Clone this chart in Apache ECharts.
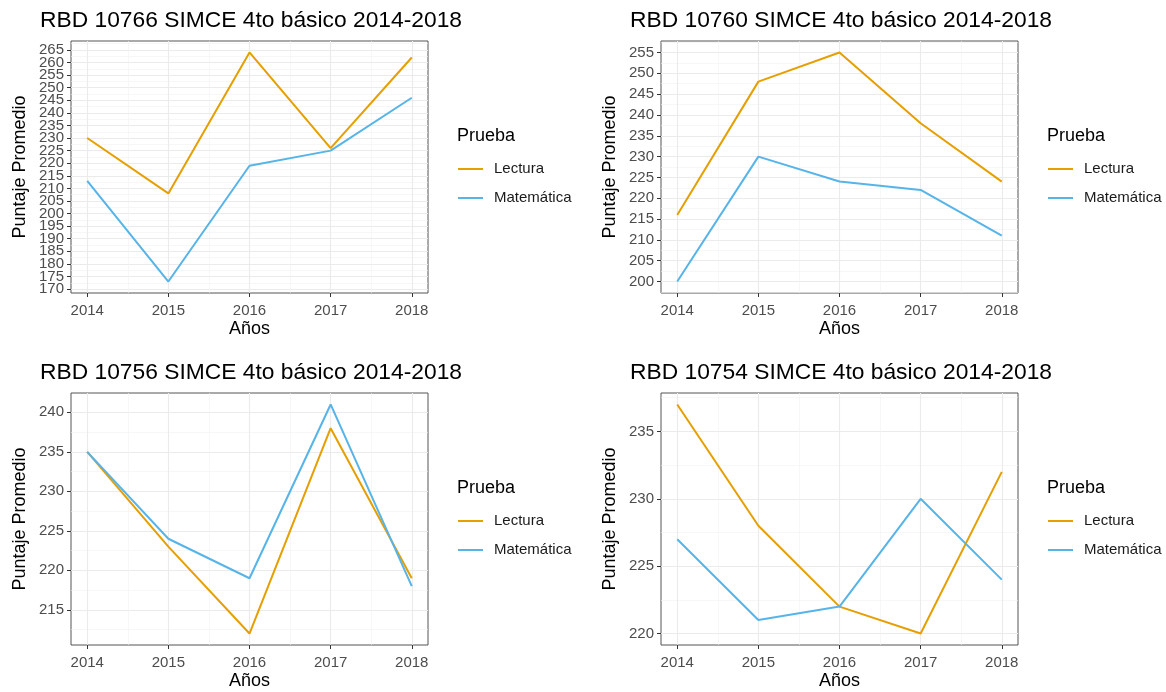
<!DOCTYPE html>
<html>
<head>
<meta charset="utf-8">
<script src="https://cdn.jsdelivr.net/npm/echarts@6/dist/echarts.min.js"></script>
<style>
  html, body { margin: 0; background: #fff; }
  #chart { width: 1166px; height: 692px; }
</style>
</head>
<body>
<div id="chart"></div>
<script>
const years = [2014, 2015, 2016, 2017, 2018];
const seriesNames = ["Lectura", "Matemática"];
const seriesColors = ["#E69F00", "#56B4E9"];

const lectura10766 = [230, 208, 264, 226, 262];
const matematica10766 = [213, 173, 219, 225, 246];
const yTicks10766 = [170, 175, 180, 185, 190, 195, 200, 205, 210, 215, 220, 225, 230, 235, 240, 245, 250, 255, 260, 265];

const lectura10760 = [216, 248, 255, 238, 224];
const matematica10760 = [200, 230, 224, 222, 211];
const yTicks10760 = [200, 205, 210, 215, 220, 225, 230, 235, 240, 245, 250, 255];

const lectura10756 = [235, 223, 212, 238, 219];
const matematica10756 = [235, 224, 219, 241, 218];
const yTicks10756 = [215, 220, 225, 230, 235, 240];

const lectura10754 = [237, 228, 222, 220, 232];
const matematica10754 = [227, 221, 222, 230, 224];
const yTicks10754 = [220, 225, 230, 235];

const panels = [
  { code: "10766", values: [lectura10766, matematica10766], yTicks: yTicks10766 },
  { code: "10760", values: [lectura10760, matematica10760], yTicks: yTicks10760 },
  { code: "10756", values: [lectura10756, matematica10756], yTicks: yTicks10756 },
  { code: "10754", values: [lectura10754, matematica10754], yTicks: yTicks10754 },
];

// panel placement (px)
const gridLefts = [71, 661, 71, 661];
const gridTops = [41, 41, 393, 393];
const gridWidth = 357;
const gridHeight = 252;

const FONT = "Liberation Sans, Arial, sans-serif";

// ggplot style 5% expansion
function expand(lo, hi) {
  const pad = (hi - lo) * 0.05;
  return [lo - pad, hi + pad];
}

function minorBreaks(ticks, lo, hi) {
  const step = ticks[1] - ticks[0];
  const out = [];
  for (let v = ticks[0] - step / 2; v <= ticks[ticks.length - 1] + step; v += step) {
    if (v >= lo && v <= hi) out.push(v);
  }
  return out;
}

const xLim = expand(years[0], years[years.length - 1]);
const xMinor = minorBreaks(years, xLim[0], xLim[1]);

const grid = [];
const xAxis = [];
const yAxis = [];
const series = [];
const title = [];
const legend = [];

const yLabelStyle = {
  color: "#4D4D4D", fontSize: 15, fontFamily: FONT, margin: 7,
  showMinLabel: true, showMaxLabel: true, hideOverlap: false,
};

panels.forEach((panel, i) => {
  const all = panel.values[0].concat(panel.values[1]);
  const yLim = expand(Math.min(...all), Math.max(...all));
  const yMinor = minorBreaks(panel.yTicks, yLim[0], yLim[1]);
  // labels split over two axes so echarts doesn't drop the dense ones
  const evenTicks = panel.yTicks.filter((_, k) => k % 2 === 0);
  const oddTicks = panel.yTicks.filter((_, k) => k % 2 === 1);
  const left = gridLefts[i];
  const top = gridTops[i];

  grid.push({
    left: left,
    top: top,
    width: gridWidth,
    height: gridHeight,
    show: true,
    borderColor: "#555",
    borderWidth: 1,
    backgroundColor: "transparent",
  });

  // major x axis
  xAxis.push({
    gridIndex: i,
    type: "value",
    position: "bottom",
    min: xLim[0],
    max: xLim[1],
    name: "Años",
    nameLocation: "middle",
    nameGap: 27,
    nameTextStyle: { color: "#000", fontSize: 18, fontFamily: FONT },
    axisLine: { show: false },
    axisTick: { show: true, length: 4, customValues: years, lineStyle: { color: "#333", width: 1 } },
    axisLabel: {
      customValues: years, color: "#4D4D4D", fontSize: 15, fontFamily: FONT, margin: 10,
      showMinLabel: true, showMaxLabel: true, hideOverlap: false, formatter: (v) => String(v),
    },
    splitLine: { show: true, lineStyle: { color: "#EBEBEB", width: 1.1 } },
  });
  // minor x axis (gridlines only)
  xAxis.push({
    gridIndex: i,
    type: "value",
    position: "bottom",
    min: xLim[0],
    max: xLim[1],
    axisLine: { show: false },
    axisTick: { show: false, customValues: xMinor },
    axisLabel: { show: false, customValues: xMinor },
    splitLine: { show: true, lineStyle: { color: "#F2F2F2", width: 0.6 } },
  });

  // major y axis: all ticks, every other label
  yAxis.push({
    gridIndex: i,
    type: "value",
    position: "left",
    min: yLim[0],
    max: yLim[1],
    name: "Puntaje Promedio",
    nameLocation: "middle",
    nameGap: 42,
    nameTextStyle: { color: "#000", fontSize: 18, fontFamily: FONT },
    axisLine: { show: false },
    axisTick: { show: true, length: 4, customValues: panel.yTicks, lineStyle: { color: "#333", width: 1 } },
    axisLabel: Object.assign({ customValues: evenTicks }, yLabelStyle),
    splitLine: { show: true, lineStyle: { color: "#EBEBEB", width: 1.1 } },
  });
  // remaining labels
  yAxis.push({
    gridIndex: i,
    type: "value",
    position: "left",
    min: yLim[0],
    max: yLim[1],
    axisLine: { show: false },
    axisTick: { show: false, customValues: oddTicks },
    axisLabel: Object.assign({ customValues: oddTicks }, yLabelStyle),
    splitLine: { show: false },
  });
  // minor y gridlines
  yAxis.push({
    gridIndex: i,
    type: "value",
    position: "left",
    min: yLim[0],
    max: yLim[1],
    axisLine: { show: false },
    axisTick: { show: false, customValues: yMinor },
    axisLabel: { show: false, customValues: yMinor },
    splitLine: { show: true, lineStyle: { color: "#F2F2F2", width: 0.6 } },
  });

  seriesNames.forEach((name, s) => {
    series.push({
      type: "line",
      name: name,
      xAxisIndex: i * 2,
      yAxisIndex: i * 3,
      data: years.map((y, k) => [y, panel.values[s][k]]),
      symbol: "none",
      color: seriesColors[s],
      lineStyle: { width: 2, color: seriesColors[s] },
      z: 3 + s,
    });
  });

  title.push({
    text: `RBD ${panel.code} SIMCE 4to básico 2014-2018`,
    left: left - 31,
    top: top - 32,
    padding: 0,
    textStyle: { color: "#000", fontSize: 22.8, fontWeight: "normal", fontFamily: FONT },
  });
  title.push({
    text: "Prueba",
    left: left + 386,
    top: top + 86,
    padding: 0,
    textStyle: { color: "#000", fontSize: 18, fontWeight: "normal", fontFamily: FONT },
  });

  legend.push({
    orient: "vertical",
    left: left + 387,
    top: top + 120,
    padding: 0,
    data: seriesNames,
    icon: "rect",
    itemWidth: 25,
    itemHeight: 2,
    itemGap: 13,
    selectedMode: false,
    textStyle: { color: "#1A1A1A", fontSize: 15, fontFamily: FONT, lineHeight: 16, padding: [0, 0, 0, 6] },
  });
});

const chart = echarts.init(document.getElementById("chart"));
chart.setOption({
  animation: false,
  backgroundColor: "#fff",
  title: title,
  legend: legend,
  grid: grid,
  xAxis: xAxis,
  yAxis: yAxis,
  series: series,
});
</script>
</body>
</html>
